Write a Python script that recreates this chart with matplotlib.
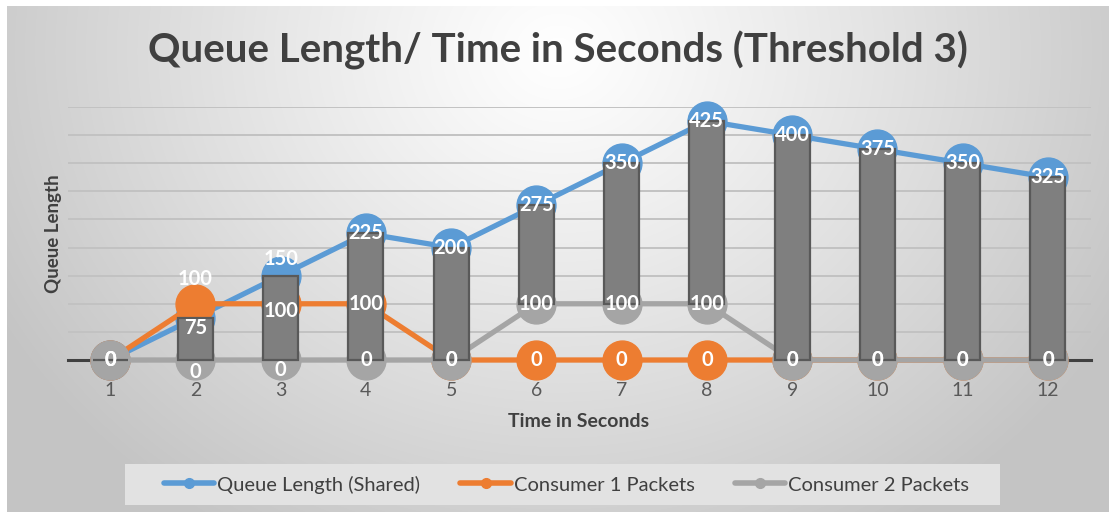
import numpy as np
import matplotlib
matplotlib.use("Agg")
import matplotlib.pyplot as plt
from matplotlib.lines import Line2D
from matplotlib.patches import Rectangle

plt.rcParams['font.family'] = ['Lato', 'DejaVu Sans']

# ---- data -------------------------------------------------------------
seconds = [1, 2, 3, 4, 5, 6, 7, 8, 9, 10, 11, 12]
queue_length = [0, 75, 150, 225, 200, 275, 350, 425, 400, 375, 350, 325]
consumer1 = [0, 100, 100, 100, 0, 0, 0, 0, 0, 0, 0, 0]
consumer2 = [0, 0, 0, 0, 0, 100, 100, 100, 0, 0, 0, 0]

series_names = ["Queue Length (Shared)", "Consumer 1 Packets", "Consumer 2 Packets"]
series_colors = ["#5B9BD5", "#ED7D31", "#A5A5A5"]

title = "Queue Length/ Time in Seconds (Threshold 3)"
x_title = "Time in Seconds"
y_title = "Queue Length"

# ---- figure -----------------------------------------------------------
W, H = 1109, 514
fig = plt.figure(figsize=(W / 100, H / 100), dpi=100)
fig.patch.set_facecolor("white")

# radial grey gradient behind the chart area
bg = fig.add_axes([7 / W, 2 / H, 1102 / W, 506 / H], zorder=-10)
ny, nx = 506, 1102
yy, xx = np.mgrid[0:ny, 0:nx]
cx, cy = 551, 45
r = np.sqrt(((xx - cx) / 640.0) ** 2 + ((yy - cy) / 560.0) ** 2)
r = np.clip(r, 0, 1)
light, dark = 1.0, 0.77
val = light - (light - dark) * r ** 1.1
img = np.dstack([val, val, val])
bg.imshow(img, aspect="auto", interpolation="bilinear")
bg.set_axis_off()

# ---- plot area --------------------------------------------------------
ax = fig.add_axes([67.5 / W, (H - 360) / H, 1023 / W, 253 / H])
ax.set_facecolor("none")
ax.set_xlim(0.5, 12.5)
ax.set_ylim(0, 450)
ax.set_yticks(np.arange(0, 451, 50))
ax.yaxis.grid(True, color="#c2c2c2", lw=1.4, zorder=0)
ax.set_axisbelow(True)
for s in ["top", "right", "left"]:
    ax.spines[s].set_visible(False)
ax.spines["bottom"].set_color("#404040")
ax.spines["bottom"].set_linewidth(2.2)
ax.spines["bottom"].set_zorder(1)
ax.tick_params(axis="y", left=False, labelleft=False)
ax.tick_params(axis="x", bottom=False, pad=12.5, labelsize=14, labelcolor="#595959")
ax.set_xticks(seconds)
ax.set_xticklabels([str(s) for s in seconds])

# series lines with large round markers
for i, (vals, col) in enumerate(zip([queue_length, consumer1, consumer2], series_colors)):
    ax.plot(seconds, vals, color=col, lw=3.8, marker="o", markersize=28,
            markerfacecolor=col, markeredgecolor=col, solid_capstyle="round",
            zorder=3 + i, clip_on=False)

# up-down bars between the first and the last series
lows = np.minimum(queue_length, consumer2)
highs = np.maximum(queue_length, consumer2)
ax.bar(seconds, highs - lows, bottom=lows, width=0.41, color="#7F7F7F",
       edgecolor="#595959", linewidth=1.6, zorder=7, clip_on=False)

# data labels (point offsets for the few that are nudged off centre)
label_offsets = {
    (0, 2): -7, (0, 3): 12,
    (1, 2): 18, (1, 3): -5,
    (2, 2): -8.5, (2, 3): -7,
}
for si, vals in enumerate([queue_length, consumer1, consumer2]):
    for xi, (x, v) in enumerate(zip(seconds, vals)):
        dy = label_offsets.get((si, x), 0)
        ax.annotate(str(v), (x, v), xytext=(0, dy), textcoords="offset points",
                    ha="center", va="center", color="white", fontsize=14.5,
                    fontweight="bold", zorder=10, annotation_clip=False)

ax.set_xlabel(x_title, fontsize=14, fontweight="bold", color="#404040", labelpad=10)
ax.set_ylabel(y_title, fontsize=13.5, fontweight="bold", color="#404040", labelpad=4)

fig.text(558 / W, 1 - 50 / H, title, ha="center", va="center", fontsize=29,
         fontweight="bold", color="#404040")

# legend on its own light panel
fig.patches.append(Rectangle((125 / W, (H - 505) / H), 875 / W, 41 / H,
                             transform=fig.transFigure, facecolor="#e2e2e2",
                             edgecolor="none", zorder=-5))
handles = [Line2D([], [], color=c, lw=4, marker="o", markersize=7, solid_capstyle="round")
           for c in series_colors]
leg = fig.legend(handles, series_names, loc="center", ncol=3,
                 bbox_to_anchor=(566.5 / W, 1 - 484.5 / H), frameon=False,
                 fontsize=14.5, handlelength=2.5, handletextpad=0.15, columnspacing=2.0)
for t in leg.get_texts():
    t.set_color("#404040")

fig.savefig("out.png", dpi=100)
